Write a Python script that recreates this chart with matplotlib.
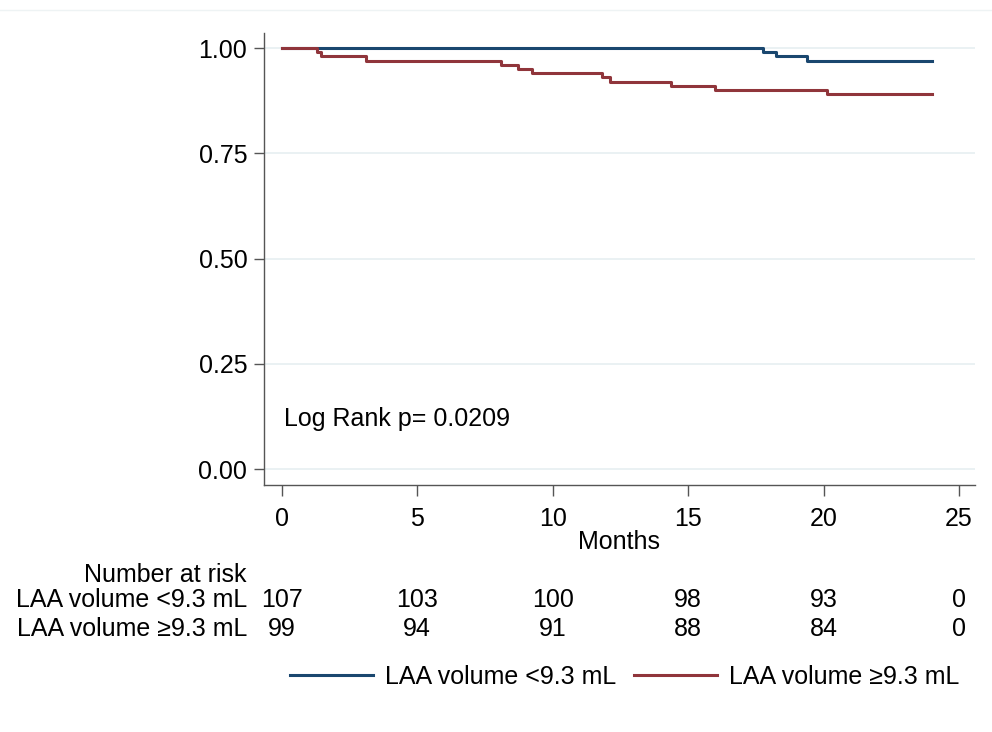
import matplotlib.pyplot as plt
from matplotlib.lines import Line2D

plt.rcParams['font.family'] = ['Liberation Sans', 'DejaVu Sans']

# Kaplan-Meier step data (months, survival)
low_times = [0, 17.75, 18.23, 19.4, 24.0]
low_surv = [1.00, 0.99, 0.98, 0.97, 0.97]

high_times = [0, 1.3, 1.45, 3.1, 8.1, 8.73, 9.22, 11.81, 12.11, 14.35, 15.99, 20.14, 24.0]
high_surv = [1.00, 0.99, 0.98, 0.97, 0.96, 0.95, 0.94, 0.93, 0.92, 0.91, 0.90, 0.89, 0.89]

risk_times = [0, 5, 10, 15, 20, 25]
risk_low = [107, 103, 100, 98, 93, 0]
risk_high = [99, 94, 91, 88, 84, 0]

labels = ['LAA volume <9.3 mL', 'LAA volume \u22659.3 mL']
colors = ['#1a476f', '#90353b']

fig = plt.figure(figsize=(9.92, 7.32), dpi=100)
ax = fig.add_axes([0.2661, 0.3374, 0.7167, 0.6175])

ax.step(low_times, low_surv, where='post', color=colors[0], lw=2.2)
ax.step(high_times, high_surv, where='post', color=colors[1], lw=2.2)

ax.set_xlim(-0.66, 25.59)
ax.set_ylim(-0.038, 1.0356)
ax.set_yticks([0, 0.25, 0.5, 0.75, 1.0])
ax.set_yticklabels(['0.00', '0.25', '0.50', '0.75', '1.00'])
ax.set_xticks(risk_times)
ax.grid(axis='y', color='#e6eff1', lw=1.2)
ax.set_axisbelow(True)
for s in ['top', 'right']:
    ax.spines[s].set_visible(False)
for s in ['left', 'bottom']:
    ax.spines[s].set_color('#555555')
    ax.spines[s].set_linewidth(1.0)
ax.tick_params(axis='both', labelsize=18, length=7, width=1.0, color='#555555', pad=5)
ax.tick_params(axis='x', length=8, pad=8)
ax.set_xlabel('Months', fontsize=18, labelpad=-1)

ax.text(0.07, 0.119, 'Log Rank p= 0.0209', fontsize=18, ha='left', va='center')

# number at risk table
def fig_y(py):
    return 1 - py / 732

fig.text(247 / 992, fig_y(575), 'Number at risk', fontsize=18, ha='right', va='center')
fig.text(247 / 992, fig_y(600), labels[0], fontsize=18, ha='right', va='center')
fig.text(247 / 992, fig_y(629), labels[1], fontsize=18, ha='right', va='center')
for t, a, b in zip(risk_times, risk_low, risk_high):
    xf = fig.transFigure.inverted().transform(ax.transData.transform((t, 0)))[0]
    fig.text(xf, fig_y(600), str(a), fontsize=18, ha='center', va='center')
    fig.text(xf, fig_y(629), str(b), fontsize=18, ha='center', va='center')

handles = [Line2D([], [], color=c, lw=2.2) for c in colors]
fig.legend(handles, labels, loc='center', bbox_to_anchor=(625 / 992, fig_y(677)),
           ncol=2, frameon=False, fontsize=18, handlelength=3.3,
           handletextpad=0.5, columnspacing=0.7)

# faint top border line
fig.add_artist(Line2D([0, 1], [fig_y(10), fig_y(10)], color='#eef3f4', lw=1.0))

fig.savefig('out.png', dpi=100)
